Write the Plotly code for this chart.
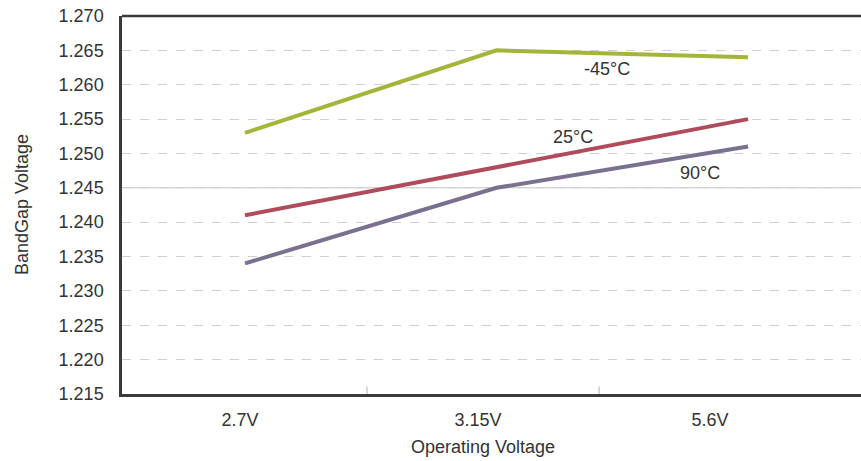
import plotly.graph_objects as go

# Operating voltage categories and bandgap readings per temperature
categories = ["2.7V", "3.15V", "5.6V"]
temps = ["-45°C", "25°C", "90°C"]
v_m45 = [1.253, 1.265, 1.264]
v_25 = [1.241, 1.248, 1.255]
v_90 = [1.234, 1.245, 1.251]
y_ticks = [1.215, 1.220, 1.225, 1.230, 1.235, 1.240, 1.245, 1.250, 1.255, 1.260, 1.265, 1.270]

series = [v_m45, v_25, v_90]
colors = ["#a5b53b", "#b04b5c", "#7a7190"]
x_pts = list(range(len(categories)))

FONT = "Liberation Sans, Arial, sans-serif"
TXT = "#333333"
FS = 18

fig = go.Figure()
for name, vals, col in zip(temps, series, colors):
    fig.add_trace(go.Scatter(
        x=x_pts, y=vals, mode="lines", name=name,
        line=dict(color=col, width=4), showlegend=False,
    ))

# temperature labels next to each curve
label_pos = {"-45°C": (1.439, 1.2623), "25°C": (1.304, 1.2524), "90°C": (1.809, 1.2472)}
for name in temps:
    lx, ly = label_pos[name]
    fig.add_annotation(x=lx, y=ly, text=name, showarrow=False,
                       xanchor="center", yanchor="middle",
                       font=dict(family=FONT, size=FS, color=TXT))

# axis titles
fig.add_annotation(xref="paper", yref="paper", x=-0.1353, y=0.5, text="BandGap Voltage",
                   textangle=-90, showarrow=False, xanchor="center", yanchor="middle",
                   font=dict(family=FONT, size=FS, color=TXT))
fig.add_annotation(xref="paper", yref="paper", x=0.4885, y=-0.140, text="Operating Voltage",
                   showarrow=False, xanchor="center", yanchor="middle",
                   font=dict(family=FONT, size=FS, color=TXT))

shapes = []
# solid reference line at 1.245
shapes.append(dict(type="line", xref="paper", yref="y", x0=0, x1=1, y0=1.245, y1=1.245,
                   line=dict(color="#d8d8d8", width=1.5), layer="below"))
# top frame line
shapes.append(dict(type="line", xref="paper", yref="paper", x0=0, x1=1, y0=1, y1=1,
                   line=dict(color="#3a3a3a", width=2.5)))
# small separators on the category axis
for sx in [0.485, 1.408]:
    shapes.append(dict(type="line", xref="x", yref="paper", x0=sx, x1=sx, y0=0, y1=0.02,
                       line=dict(color="#cccccc", width=1.5)))

fig.update_layout(
    width=861, height=461,
    margin=dict(l=122, r=0, t=16, b=67),
    paper_bgcolor="white", plot_bgcolor="white",
    font=dict(family=FONT, size=FS, color=TXT),
    shapes=shapes,
)
fig.update_xaxes(
    range=[-0.489, 2.449],
    tickmode="array", tickvals=[-0.02, 0.926, 1.849], ticktext=categories,
    showgrid=False, zeroline=False,
    showline=True, linecolor="#3a3a3a", linewidth=2.5,
    ticks="", ticklabelstandoff=8,
    tickfont=dict(family=FONT, size=FS, color=TXT),
)
fig.update_yaxes(
    range=[1.215, 1.270],
    tickmode="array", tickvals=y_ticks, ticktext=[f"{v:.3f}" for v in y_ticks],
    showgrid=True, gridcolor="#cfcfcf", gridwidth=1, griddash="dash",
    zeroline=False,
    showline=True, linecolor="#3a3a3a", linewidth=2.5,
    ticks="", ticklabelstandoff=12,
    tickfont=dict(family=FONT, size=FS, color=TXT),
)

fig.write_html("out.html")
